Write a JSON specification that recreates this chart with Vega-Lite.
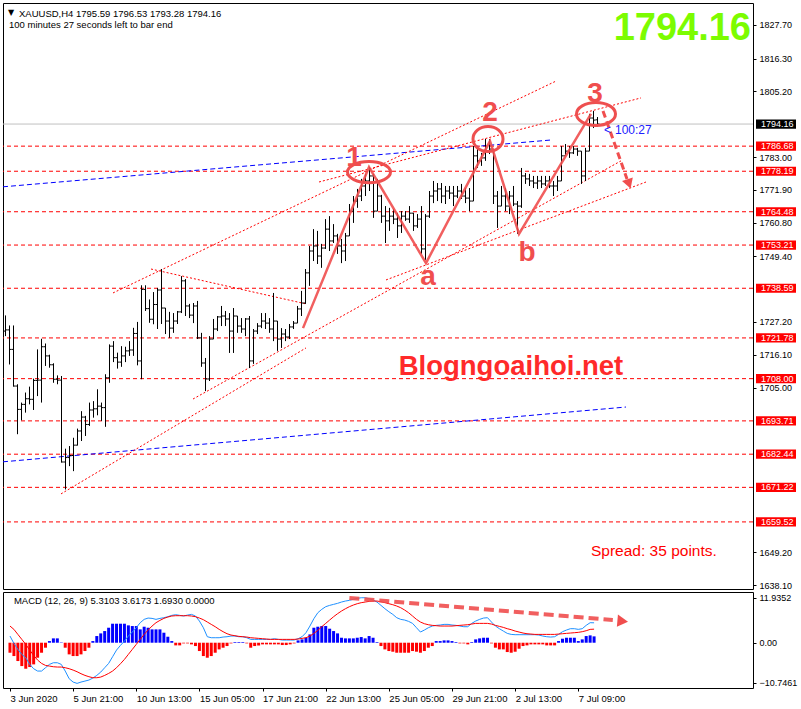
{
"$schema":"https://vega.github.io/schema/vega-lite/v6.json",
"background":"white",
"padding":{"left":2,"top":2,"right":0,"bottom":0},
"spacing":3,
"bounds":"flush",
"config":{
 "view":{"stroke":"#000000","strokeWidth":1},
 "axis":{"labelFont":"Liberation Sans","labelFontSize":9,"labelColor":"#000000","tickColor":"#000000","tickSize":3,"labelPadding":3,"domain":false,"grid":false,"labelFlush":false,"labelOverlap":false,"labelBound":false},
 "text":{"font":"Liberation Sans"}
},
"datasets":{
"bars":[
{"i":0,"o":1724.1,"h":1729.4,"l":1722.4,"c":1724.5,"m":1.78,"s":4.45,"d":-2.67},
{"i":1,"o":1724.5,"h":1726.0,"l":1712.8,"c":1717.9,"m":-0.18,"s":3.56,"d":-3.56},
{"i":2,"o":1717.9,"h":1726.0,"l":1705.3,"c":1705.5,"m":-1.78,"s":2.22,"d":-4.89},
{"i":3,"o":1705.5,"h":1706.1,"l":1689.2,"c":1697.6,"m":-3.11,"s":0.89,"d":-6.23},
{"i":4,"o":1697.6,"h":1699.9,"l":1693.9,"c":1699.3,"m":-4.0,"s":-0.44,"d":-6.94},
{"i":5,"o":1699.3,"h":1703.3,"l":1696.5,"c":1701.2,"m":-5.78,"s":-1.96,"d":-6.49},
{"i":6,"o":1701.2,"h":1705.3,"l":1699.3,"c":1701.0,"m":-6.94,"s":-3.38,"d":-5.78},
{"i":7,"o":1701.0,"h":1708.0,"l":1697.4,"c":1707.4,"m":-7.56,"s":-4.63,"d":-4.0},
{"i":8,"o":1707.4,"h":1717.9,"l":1702.1,"c":1707.5,"m":-7.56,"s":-5.52,"d":-2.67},
{"i":9,"o":1707.5,"h":1721.5,"l":1699.9,"c":1718.8,"m":-6.67,"s":-6.05,"d":-1.33},
{"i":10,"o":1718.8,"h":1719.9,"l":1712.3,"c":1715.7,"m":-5.78,"s":-6.23,"d":0.44},
{"i":11,"o":1715.7,"h":1716.1,"l":1711.7,"c":1712.7,"m":-5.34,"s":-6.41,"d":1.16},
{"i":12,"o":1712.7,"h":1713.2,"l":1706.6,"c":1707.8,"m":-5.34,"s":-6.49,"d":1.16},
{"i":13,"o":1707.8,"h":1709.1,"l":1706.1,"c":1707.5,"m":-5.78,"s":-6.49,"d":0.1},
{"i":14,"o":1707.5,"h":1708.9,"l":1679.6,"c":1679.8,"m":-7.56,"s":-6.67,"d":-1.33},
{"i":15,"o":1679.8,"h":1684.3,"l":1670.5,"c":1681.3,"m":-9.61,"s":-6.94,"d":-3.11},
{"i":16,"o":1681.3,"h":1685.2,"l":1678.4,"c":1682.0,"m":-10.5,"s":-7.3,"d":-3.56},
{"i":17,"o":1682.0,"h":1688.0,"l":1676.7,"c":1685.5,"m":-10.85,"s":-7.74,"d":-3.56},
{"i":18,"o":1685.5,"h":1691.1,"l":1685.4,"c":1690.3,"m":-10.5,"s":-8.27,"d":-3.11},
{"i":19,"o":1690.3,"h":1697.0,"l":1686.9,"c":1695.0,"m":-10.23,"s":-8.72,"d":-2.22},
{"i":20,"o":1695.0,"h":1695.4,"l":1688.6,"c":1692.5,"m":-9.96,"s":-9.07,"d":-1.33},
{"i":21,"o":1692.5,"h":1699.9,"l":1692.0,"c":1697.4,"m":-9.43,"s":-9.34,"d":0.44},
{"i":22,"o":1697.4,"h":1700.4,"l":1694.8,"c":1697.8,"m":-8.72,"s":-9.34,"d":1.78},
{"i":23,"o":1697.8,"h":1704.4,"l":1695.6,"c":1698.7,"m":-7.83,"s":-9.16,"d":2.49},
{"i":24,"o":1698.7,"h":1699.9,"l":1693.7,"c":1698.2,"m":-6.67,"s":-8.72,"d":3.11},
{"i":25,"o":1698.2,"h":1709.5,"l":1691.7,"c":1708.3,"m":-5.52,"s":-8.19,"d":4.0},
{"i":26,"o":1708.3,"h":1719.6,"l":1706.6,"c":1719.0,"m":-3.74,"s":-7.56,"d":5.07},
{"i":27,"o":1719.0,"h":1720.7,"l":1713.6,"c":1715.1,"m":-1.96,"s":-6.67,"d":5.07},
{"i":28,"o":1715.1,"h":1716.8,"l":1711.4,"c":1713.6,"m":-0.71,"s":-5.6,"d":5.07},
{"i":29,"o":1713.6,"h":1719.0,"l":1712.0,"c":1715.7,"m":0.44,"s":-4.45,"d":5.07},
{"i":30,"o":1715.7,"h":1718.8,"l":1713.6,"c":1717.4,"m":1.78,"s":-3.11,"d":4.63},
{"i":31,"o":1717.4,"h":1720.7,"l":1715.7,"c":1717.7,"m":2.85,"s":-1.78,"d":4.45},
{"i":32,"o":1717.7,"h":1725.2,"l":1715.7,"c":1723.3,"m":4.0,"s":-0.44,"d":4.45},
{"i":33,"o":1723.3,"h":1727.2,"l":1712.5,"c":1714.0,"m":5.34,"s":0.89,"d":3.56},
{"i":34,"o":1714.0,"h":1739.6,"l":1707.8,"c":1738.2,"m":6.23,"s":2.22,"d":4.27},
{"i":35,"o":1738.2,"h":1739.6,"l":1730.9,"c":1731.7,"m":6.58,"s":3.38,"d":4.0},
{"i":36,"o":1731.7,"h":1734.8,"l":1726.9,"c":1728.1,"m":6.49,"s":4.45,"d":3.56},
{"i":37,"o":1728.1,"h":1737.3,"l":1726.4,"c":1733.1,"m":6.23,"s":5.34,"d":3.56},
{"i":38,"o":1733.1,"h":1738.7,"l":1724.8,"c":1738.0,"m":6.49,"s":5.96,"d":3.56},
{"i":39,"o":1738.0,"h":1745.1,"l":1726.5,"c":1731.9,"m":6.67,"s":6.49,"d":2.67},
{"i":40,"o":1731.9,"h":1731.9,"l":1723.1,"c":1727.5,"m":6.94,"s":6.85,"d":1.6},
{"i":41,"o":1727.5,"h":1730.6,"l":1721.8,"c":1725.1,"m":7.3,"s":7.12,"d":0.44},
{"i":42,"o":1725.1,"h":1730.2,"l":1723.5,"c":1727.5,"m":7.47,"s":7.21,"d":-0.71},
{"i":43,"o":1727.5,"h":1730.9,"l":1726.5,"c":1730.6,"m":7.3,"s":7.21,"d":-0.71},
{"i":44,"o":1730.6,"h":1742.7,"l":1730.2,"c":1741.1,"m":7.12,"s":7.21,"d":-0.18},
{"i":45,"o":1741.1,"h":1741.7,"l":1729.2,"c":1732.6,"m":7.38,"s":7.21,"d":-0.18},
{"i":46,"o":1732.6,"h":1733.3,"l":1728.5,"c":1729.5,"m":7.56,"s":7.12,"d":-0.44},
{"i":47,"o":1729.5,"h":1733.6,"l":1726.8,"c":1732.6,"m":7.12,"s":6.94,"d":-0.89},
{"i":48,"o":1732.6,"h":1734.3,"l":1721.4,"c":1721.8,"m":5.78,"s":6.58,"d":-2.22},
{"i":49,"o":1721.8,"h":1723.5,"l":1712.0,"c":1713.3,"m":4.0,"s":6.14,"d":-3.56},
{"i":50,"o":1713.3,"h":1715.0,"l":1703.8,"c":1707.9,"m":1.6,"s":5.52,"d":-4.0},
{"i":51,"o":1707.9,"h":1722.4,"l":1707.2,"c":1721.4,"m":1.33,"s":4.89,"d":-3.56},
{"i":52,"o":1721.4,"h":1728.2,"l":1721.4,"c":1724.8,"m":1.33,"s":4.27,"d":-2.67},
{"i":53,"o":1724.8,"h":1729.2,"l":1724.1,"c":1728.9,"m":1.33,"s":3.56,"d":-1.78},
{"i":54,"o":1728.9,"h":1732.6,"l":1725.8,"c":1729.2,"m":1.51,"s":2.94,"d":-1.33},
{"i":55,"o":1729.2,"h":1730.9,"l":1725.8,"c":1728.2,"m":1.6,"s":2.4,"d":-0.89},
{"i":56,"o":1728.2,"h":1730.2,"l":1716.7,"c":1724.1,"m":1.78,"s":2.05,"d":-0.18},
{"i":57,"o":1724.1,"h":1731.9,"l":1716.7,"c":1729.2,"m":1.78,"s":1.87,"d":0.18},
{"i":58,"o":1729.2,"h":1729.2,"l":1723.5,"c":1725.8,"m":1.6,"s":1.69,"d":0.18},
{"i":59,"o":1725.8,"h":1728.5,"l":1723.5,"c":1724.8,"m":1.6,"s":1.6,"d":0.18},
{"i":60,"o":1724.8,"h":1728.5,"l":1722.4,"c":1728.2,"m":1.33,"s":1.51,"d":-0.18},
{"i":61,"o":1728.2,"h":1729.2,"l":1711.6,"c":1714.0,"m":0.89,"s":1.33,"d":-1.33},
{"i":62,"o":1714.0,"h":1724.8,"l":1713.0,"c":1724.1,"m":0.89,"s":1.25,"d":-0.89},
{"i":63,"o":1724.1,"h":1726.8,"l":1723.1,"c":1725.8,"m":0.89,"s":1.16,"d":-0.71},
{"i":64,"o":1725.8,"h":1730.2,"l":1725.1,"c":1727.5,"m":0.89,"s":1.07,"d":-0.44},
{"i":65,"o":1727.5,"h":1730.2,"l":1724.8,"c":1726.8,"m":0.89,"s":0.98,"d":-0.44},
{"i":66,"o":1726.8,"h":1728.5,"l":1723.5,"c":1724.8,"m":0.89,"s":0.89,"d":-0.44},
{"i":67,"o":1724.8,"h":1737.0,"l":1720.7,"c":1727.5,"m":1.07,"s":0.89,"d":-0.44},
{"i":68,"o":1727.5,"h":1727.5,"l":1717.4,"c":1721.4,"m":0.89,"s":0.89,"d":-0.44},
{"i":69,"o":1721.4,"h":1725.1,"l":1718.4,"c":1723.1,"m":0.71,"s":0.89,"d":-0.62},
{"i":70,"o":1723.1,"h":1724.8,"l":1720.7,"c":1722.1,"m":0.71,"s":0.89,"d":-0.62},
{"i":71,"o":1722.1,"h":1726.5,"l":1721.4,"c":1725.5,"m":0.71,"s":0.89,"d":-0.44},
{"i":72,"o":1725.5,"h":1727.5,"l":1724.8,"c":1726.8,"m":0.71,"s":0.89,"d":-0.18},
{"i":73,"o":1726.8,"h":1732.6,"l":1726.8,"c":1731.6,"m":1.07,"s":0.98,"d":0.62},
{"i":74,"o":1731.6,"h":1737.7,"l":1729.2,"c":1733.6,"m":1.6,"s":1.16,"d":0.89},
{"i":75,"o":1733.6,"h":1745.1,"l":1733.3,"c":1743.8,"m":2.67,"s":1.33,"d":1.33},
{"i":76,"o":1743.8,"h":1752.9,"l":1739.4,"c":1751.2,"m":4.45,"s":1.78,"d":2.22},
{"i":77,"o":1751.2,"h":1758.6,"l":1747.8,"c":1752.9,"m":6.41,"s":2.49,"d":4.0},
{"i":78,"o":1752.9,"h":1758.0,"l":1746.8,"c":1749.5,"m":8.0,"s":3.29,"d":4.27},
{"i":79,"o":1749.5,"h":1753.6,"l":1745.5,"c":1752.2,"m":8.9,"s":4.27,"d":4.45},
{"i":80,"o":1752.2,"h":1762.0,"l":1751.9,"c":1758.6,"m":9.61,"s":5.16,"d":4.45},
{"i":81,"o":1758.6,"h":1763.0,"l":1751.2,"c":1754.6,"m":9.96,"s":6.05,"d":3.74},
{"i":82,"o":1754.6,"h":1760.3,"l":1753.9,"c":1756.3,"m":10.23,"s":6.94,"d":3.11},
{"i":83,"o":1756.3,"h":1757.0,"l":1750.2,"c":1752.9,"m":10.5,"s":7.74,"d":2.49},
{"i":84,"o":1752.9,"h":1755.3,"l":1747.1,"c":1751.2,"m":10.85,"s":8.45,"d":1.33},
{"i":85,"o":1751.2,"h":1757.3,"l":1747.8,"c":1756.3,"m":11.12,"s":9.07,"d":1.16},
{"i":86,"o":1756.3,"h":1767.1,"l":1756.3,"c":1764.7,"m":11.3,"s":9.61,"d":1.16},
{"i":87,"o":1764.7,"h":1769.8,"l":1760.7,"c":1768.1,"m":11.57,"s":10.05,"d":1.16},
{"i":88,"o":1768.1,"h":1772.2,"l":1765.8,"c":1769.8,"m":11.83,"s":10.41,"d":1.33},
{"i":89,"o":1769.8,"h":1775.6,"l":1768.1,"c":1773.2,"m":12.0,"s":10.68,"d":1.51},
{"i":90,"o":1773.2,"h":1777.3,"l":1769.8,"c":1774.9,"m":12.0,"s":10.85,"d":1.16},
{"i":91,"o":1774.9,"h":1779.6,"l":1771.5,"c":1776.6,"m":11.74,"s":11.03,"d":1.78},
{"i":92,"o":1776.6,"h":1777.3,"l":1762.4,"c":1764.7,"m":11.39,"s":11.12,"d":1.33},
{"i":93,"o":1764.7,"h":1775.6,"l":1764.7,"c":1769.8,"m":10.85,"s":11.12,"d":0.18},
{"i":94,"o":1769.8,"h":1770.2,"l":1760.7,"c":1763.0,"m":9.96,"s":10.94,"d":-0.89},
{"i":95,"o":1763.0,"h":1766.4,"l":1753.9,"c":1761.4,"m":9.07,"s":10.68,"d":-1.78},
{"i":96,"o":1761.4,"h":1765.8,"l":1758.0,"c":1763.0,"m":8.27,"s":10.41,"d":-2.22},
{"i":97,"o":1763.0,"h":1765.4,"l":1760.3,"c":1762.0,"m":7.56,"s":10.14,"d":-2.4},
{"i":98,"o":1762.0,"h":1764.1,"l":1755.6,"c":1759.7,"m":6.67,"s":9.79,"d":-2.67},
{"i":99,"o":1759.7,"h":1764.7,"l":1757.3,"c":1763.0,"m":6.23,"s":9.34,"d":-2.67},
{"i":100,"o":1763.0,"h":1764.7,"l":1761.4,"c":1762.0,"m":6.05,"s":8.72,"d":-2.67},
{"i":101,"o":1762.0,"h":1766.4,"l":1760.7,"c":1764.0,"m":5.69,"s":8.0,"d":-2.67},
{"i":102,"o":1764.0,"h":1764.1,"l":1758.0,"c":1759.7,"m":5.16,"s":7.12,"d":-2.22},
{"i":103,"o":1759.7,"h":1763.7,"l":1759.0,"c":1762.0,"m":4.0,"s":6.23,"d":-2.4},
{"i":104,"o":1762.0,"h":1766.4,"l":1750.2,"c":1751.9,"m":2.85,"s":5.52,"d":-2.67},
{"i":105,"o":1751.9,"h":1763.7,"l":1748.2,"c":1763.0,"m":3.38,"s":5.07,"d":-2.22},
{"i":106,"o":1763.0,"h":1771.5,"l":1762.4,"c":1769.8,"m":4.0,"s":4.8,"d":-1.33},
{"i":107,"o":1769.8,"h":1774.9,"l":1767.4,"c":1771.5,"m":4.45,"s":4.63,"d":-0.89},
{"i":108,"o":1771.5,"h":1774.2,"l":1768.1,"c":1772.2,"m":4.63,"s":4.54,"d":0.44},
{"i":109,"o":1772.2,"h":1774.2,"l":1767.4,"c":1769.8,"m":4.72,"s":4.45,"d":0.44},
{"i":110,"o":1769.8,"h":1773.2,"l":1767.1,"c":1771.5,"m":4.89,"s":4.45,"d":0.62},
{"i":111,"o":1771.5,"h":1773.2,"l":1768.8,"c":1770.8,"m":4.89,"s":4.45,"d":0.62},
{"i":112,"o":1770.8,"h":1773.2,"l":1766.4,"c":1769.8,"m":4.72,"s":4.45,"d":0.44},
{"i":113,"o":1769.8,"h":1773.2,"l":1769.1,"c":1771.5,"m":4.63,"s":4.54,"d":0.18},
{"i":114,"o":1771.5,"h":1773.9,"l":1768.8,"c":1769.8,"m":4.45,"s":4.63,"d":-0.18},
{"i":115,"o":1769.8,"h":1772.5,"l":1767.4,"c":1769.1,"m":4.27,"s":4.72,"d":-0.18},
{"i":116,"o":1769.1,"h":1772.5,"l":1764.7,"c":1768.1,"m":4.27,"s":4.8,"d":-0.44},
{"i":117,"o":1768.1,"h":1786.7,"l":1768.1,"c":1783.4,"m":5.16,"s":4.98,"d":0.18},
{"i":118,"o":1783.4,"h":1785.7,"l":1779.3,"c":1781.7,"m":5.78,"s":5.16,"d":0.89},
{"i":119,"o":1781.7,"h":1784.4,"l":1780.0,"c":1782.7,"m":6.23,"s":5.16,"d":1.16},
{"i":120,"o":1782.7,"h":1789.1,"l":1781.7,"c":1785.0,"m":6.58,"s":5.16,"d":1.33},
{"i":121,"o":1785.0,"h":1789.1,"l":1784.0,"c":1785.7,"m":6.67,"s":5.16,"d":1.33},
{"i":122,"o":1785.7,"h":1785.7,"l":1767.1,"c":1769.8,"m":5.52,"s":4.98,"d":-0.18},
{"i":123,"o":1769.8,"h":1771.5,"l":1759.0,"c":1766.4,"m":4.45,"s":4.63,"d":-1.33},
{"i":124,"o":1766.4,"h":1773.2,"l":1766.4,"c":1769.8,"m":3.74,"s":4.36,"d":-1.78},
{"i":125,"o":1769.8,"h":1772.5,"l":1764.7,"c":1766.4,"m":3.11,"s":4.09,"d":-1.78},
{"i":126,"o":1766.4,"h":1771.5,"l":1763.7,"c":1769.8,"m":2.49,"s":3.74,"d":-2.49},
{"i":127,"o":1769.8,"h":1773.2,"l":1766.4,"c":1767.1,"m":2.22,"s":3.47,"d":-2.67},
{"i":128,"o":1767.1,"h":1768.1,"l":1757.0,"c":1766.4,"m":2.14,"s":3.11,"d":-2.4},
{"i":129,"o":1766.4,"h":1779.3,"l":1765.8,"c":1776.6,"m":2.14,"s":2.85,"d":-1.6},
{"i":130,"o":1776.6,"h":1777.6,"l":1773.9,"c":1775.6,"m":2.14,"s":2.58,"d":-0.89},
{"i":131,"o":1775.6,"h":1777.3,"l":1773.2,"c":1774.9,"m":2.14,"s":2.4,"d":-0.71},
{"i":132,"o":1774.9,"h":1776.6,"l":1772.5,"c":1774.2,"m":2.14,"s":2.31,"d":-0.44},
{"i":133,"o":1774.2,"h":1776.6,"l":1772.2,"c":1774.9,"m":2.14,"s":2.22,"d":-0.44},
{"i":134,"o":1774.9,"h":1776.6,"l":1772.5,"c":1773.9,"m":2.05,"s":2.22,"d":-0.44},
{"i":135,"o":1773.9,"h":1776.6,"l":1773.2,"c":1774.9,"m":1.78,"s":2.22,"d":-0.44},
{"i":136,"o":1774.9,"h":1776.6,"l":1772.5,"c":1773.2,"m":1.6,"s":2.22,"d":-0.71},
{"i":137,"o":1773.2,"h":1774.9,"l":1769.8,"c":1773.2,"m":1.51,"s":2.22,"d":-0.71},
{"i":138,"o":1773.2,"h":1776.6,"l":1771.5,"c":1774.9,"m":1.6,"s":2.22,"d":-0.71},
{"i":139,"o":1774.9,"h":1786.7,"l":1774.9,"c":1783.4,"m":2.22,"s":2.31,"d":0.44},
{"i":140,"o":1783.4,"h":1787.4,"l":1783.4,"c":1785.0,"m":2.94,"s":2.4,"d":1.07},
{"i":141,"o":1785.0,"h":1786.7,"l":1782.7,"c":1784.4,"m":3.38,"s":2.49,"d":1.33},
{"i":142,"o":1784.4,"h":1786.7,"l":1784.0,"c":1785.7,"m":3.74,"s":2.58,"d":1.33},
{"i":143,"o":1785.7,"h":1786.1,"l":1783.4,"c":1785.0,"m":3.74,"s":2.67,"d":1.33},
{"i":144,"o":1785.0,"h":1785.0,"l":1773.9,"c":1776.6,"m":3.56,"s":2.76,"d":0.44},
{"i":145,"o":1776.6,"h":1786.1,"l":1774.9,"c":1785.0,"m":3.74,"s":2.94,"d":0.89},
{"i":146,"o":1785.0,"h":1797.6,"l":1785.0,"c":1796.2,"m":4.63,"s":3.2,"d":1.78},
{"i":147,"o":1796.2,"h":1798.6,"l":1792.8,"c":1795.5,"m":5.34,"s":3.56,"d":1.96},
{"i":148,"o":1795.59,"h":1796.53,"l":1793.28,"c":1794.16,"m":5.3103,"s":3.6173,"d":1.693}
],
"levels":[{"v":1786.68},{"v":1778.19},{"v":1764.48},{"v":1753.21},{"v":1738.59},{"v":1721.78},{"v":1708.00},{"v":1693.71},{"v":1682.44},{"v":1671.22},{"v":1659.52}],
"trend":[
{"id":"a","i":27,"p":1737.0},{"id":"a","i":137.75,"p":1808.7},
{"id":"b","i":78.5,"p":1774.55},{"id":"b","i":159,"p":1803.0},
{"id":"c","i":36.5,"p":1745.1},{"id":"c","i":75.25,"p":1733.3},
{"id":"d","i":47,"p":1701.1},{"id":"d","i":154,"p":1781.7},
{"id":"e","i":95.25,"p":1741.4},{"id":"e","i":160.25,"p":1774.55},
{"id":"f","i":14,"p":1669.0},{"id":"f","i":75.25,"p":1718.4}
],
"blue":[
{"id":"u","i":-0.5,"p":1772.92},{"id":"u","i":136.5,"p":1788.76},
{"id":"w","i":-0.5,"p":1679.86},{"id":"w","i":155.25,"p":1698.4}
],
"waves":[
{"k":0,"i":74.5,"p":1725.1},{"k":1,"i":91,"p":1779.6},{"k":2,"i":105.25,"p":1747.1},{"k":3,"i":121.25,"p":1788.4},{"k":4,"i":128.5,"p":1757.0},{"k":5,"i":146.5,"p":1797.6}
],
"wl":[
{"t":"1","i":87.25,"p":1780.0},{"t":"2","i":121.25,"p":1795.2},{"t":"3","i":147.5,"p":1801.6},{"t":"a","i":105.75,"p":1739.7},{"t":"b","i":130.5,"p":1747.8}
]
},
"vconcat":[
{
"width":750,"height":586,
"layer":[
 {"data":{"name":"levels"},"mark":{"type":"rule","color":"#FF0000","strokeWidth":1,"strokeDash":[4,3]},
  "encoding":{"y":{"field":"v","type":"quantitative","scale":{"domain":[1636.82,1835.12],"nice":false,"zero":false},
   "axis":{"orient":"right","title":null,"values":[1827.7,1816.3,1805.2,1783.0,1771.9,1760.8,1749.4,1727.2,1716.1,1705.0,1649.2,1638.1],"format":".2f"}}}},
 {"data":{"values":[{}]},"mark":{"type":"rule","color":"#C0C0C0","strokeWidth":1},"encoding":{"y":{"datum":1794.16,"type":"quantitative"}}},
 {"data":{"name":"blue"},"mark":{"type":"line","color":"#0000FF","strokeWidth":1,"strokeDash":[5,3],"clip":true},
  "encoding":{"x":{"field":"i","type":"quantitative","scale":{"domain":[-0.5,187],"nice":false,"zero":false},"axis":null},"y":{"field":"p","type":"quantitative"},"detail":{"field":"id"}}},
 {"data":{"name":"trend"},"mark":{"type":"line","color":"#FF0000","strokeWidth":1,"strokeDash":[2,2]},
  "encoding":{"x":{"field":"i","type":"quantitative","axis":null},"y":{"field":"p","type":"quantitative"},"detail":{"field":"id"}}},
 {"data":{"name":"bars"},"mark":{"type":"rule","color":"#000000","strokeWidth":1,"xOffset":0.5},
  "encoding":{"x":{"field":"i","type":"quantitative","axis":null},"y":{"field":"l","type":"quantitative"},"y2":{"field":"h"}}},
 {"data":{"name":"bars"},"mark":{"type":"tick","orient":"horizontal","color":"#000000","size":2,"thickness":1,"xOffset":-0.5,"opacity":1},
  "encoding":{"x":{"field":"i","type":"quantitative","axis":null},"y":{"field":"o","type":"quantitative"}}},
 {"data":{"name":"bars"},"mark":{"type":"tick","orient":"horizontal","color":"#000000","size":2,"thickness":1,"xOffset":1.5,"opacity":1},
  "encoding":{"x":{"field":"i","type":"quantitative","axis":null},"y":{"field":"c","type":"quantitative"}}},
 {"data":{"name":"waves"},"mark":{"type":"line","color":"#F04E4E","strokeWidth":2.5,"opacity":0.9},
  "encoding":{"x":{"field":"i","type":"quantitative","axis":null},"y":{"field":"p","type":"quantitative"},"order":{"field":"k"}}},
 {"data":{"values":[{}]},"mark":{"type":"point","shape":"M -1 0 A 1 0.49 0 1 1 1 0 A 1 0.49 0 1 1 -1 0 Z","size":1849,"filled":false,"stroke":"#EE4F4F","strokeWidth":3,"opacity":1},
  "encoding":{"x":{"datum":91,"type":"quantitative","axis":null},"y":{"datum":1777.9,"type":"quantitative"}}},
 {"data":{"values":[{}]},"mark":{"type":"point","shape":"M -1 0 A 1 0.83 0 1 1 1 0 A 1 0.83 0 1 1 -1 0 Z","size":900,"filled":false,"stroke":"#EE4F4F","strokeWidth":3,"opacity":1},
  "encoding":{"x":{"datum":120.75,"type":"quantitative","axis":null},"y":{"datum":1789.1,"type":"quantitative"}}},
 {"data":{"values":[{}]},"mark":{"type":"point","shape":"M -1 0 A 1 0.59 0 1 1 1 0 A 1 0.59 0 1 1 -1 0 Z","size":1521,"filled":false,"stroke":"#EE4F4F","strokeWidth":3,"opacity":1},
  "encoding":{"x":{"datum":147.75,"type":"quantitative","axis":null},"y":{"datum":1797.56,"type":"quantitative"}}},
 {"data":{"name":"wl"},"mark":{"type":"text","fontWeight":"bold","fontSize":28,"color":"#F04E4E","align":"center","baseline":"alphabetic"},
  "encoding":{"x":{"field":"i","type":"quantitative","axis":null},"y":{"field":"p","type":"quantitative"},"text":{"field":"t"}}},
 {"data":{"values":[{}]},"mark":{"type":"rule","color":"#F04E4E","strokeWidth":3,"strokeDash":[7,4]},
  "encoding":{"x":{"datum":149.5,"type":"quantitative","axis":null},"y":{"datum":1798.6,"type":"quantitative"},"x2":{"datum":155.5},"y2":{"datum":1775.6}}},
 {"data":{"values":[{}]},"mark":{"type":"point","shape":"triangle-down","size":130,"filled":true,"color":"#F04E4E","opacity":1,"angle":341},
  "encoding":{"x":{"datum":156.0,"type":"quantitative","axis":null},"y":{"datum":1773.9,"type":"quantitative"}}},
 {"data":{"values":[{}]},"mark":{"type":"text","fontWeight":"bold","fontSize":27.5,"color":"#FF2A2A","align":"center","baseline":"alphabetic"},
  "encoding":{"x":{"datum":126.5,"type":"quantitative","axis":null},"y":{"datum":1709.2,"type":"quantitative"},"text":{"value":"Blogngoaihoi.net"}}},
 {"data":{"values":[{}]},"mark":{"type":"text","fontWeight":"bold","fontSize":38,"color":"#7CFC00","align":"right","baseline":"alphabetic"},
  "encoding":{"x":{"datum":186.5,"type":"quantitative","axis":null},"y":{"datum":1822.6,"type":"quantitative"},"text":{"value":"1794.16"}}},
 {"data":{"values":[{}]},"mark":{"type":"text","font":"DejaVu Sans","fontSize":8,"color":"#000000","align":"center","baseline":"middle"},
  "encoding":{"x":{"datum":1.5,"type":"quantitative","axis":null},"y":{"datum":1831.9,"type":"quantitative"},"text":{"value":"▼"}}},
 {"data":{"values":[{}]},"mark":{"type":"text","fontSize":9.5,"color":"#000000","align":"left","baseline":"alphabetic"},
  "encoding":{"x":{"datum":3.5,"type":"quantitative","axis":null},"y":{"datum":1830.4,"type":"quantitative"},"text":{"value":"XAUUSD,H4  1795.59 1796.53 1793.28 1794.16"}}},
 {"data":{"values":[{}]},"mark":{"type":"text","fontSize":9.5,"color":"#000000","align":"left","baseline":"alphabetic"},
  "encoding":{"x":{"datum":1,"type":"quantitative","axis":null},"y":{"datum":1826.5,"type":"quantitative"},"text":{"value":"100 minutes 27 seconds left to bar end"}}},
 {"data":{"values":[{}]},"mark":{"type":"text","fontSize":15.5,"color":"#FF0000","align":"left","baseline":"alphabetic"},
  "encoding":{"x":{"datum":146.5,"type":"quantitative","axis":null},"y":{"datum":1648.0,"type":"quantitative"},"text":{"value":"Spread: 35 points."}}},
 {"data":{"values":[{}]},"mark":{"type":"text","fontSize":12,"color":"#2020FF","align":"left","baseline":"alphabetic"},
  "encoding":{"x":{"datum":149.75,"type":"quantitative","axis":null},"y":{"datum":1790.8,"type":"quantitative"},"text":{"value":"<"}}},
 {"data":{"values":[{}]},"mark":{"type":"text","fontSize":12,"color":"#2020FF","align":"left","baseline":"alphabetic"},
  "encoding":{"x":{"datum":152.5,"type":"quantitative","axis":null},"y":{"datum":1790.8,"type":"quantitative"},"text":{"value":"100:27"}}},
 {"data":{"name":"levels"},"mark":{"type":"point","shape":"M -1 -0.23 H 1 V 0.23 H -1 Z","size":1600,"filled":true,"color":"#FF0000","opacity":1},
  "encoding":{"x":{"datum":192.75,"type":"quantitative","axis":null},"y":{"field":"v","type":"quantitative"}}},
 {"data":{"name":"levels"},"mark":{"type":"text","fontSize":9,"color":"#FFFFFF","align":"left","baseline":"middle"},
  "encoding":{"x":{"datum":189,"type":"quantitative","axis":null},"y":{"field":"v","type":"quantitative"},"text":{"field":"v","type":"quantitative","format":".2f"}}},
 {"data":{"values":[{}]},"mark":{"type":"point","shape":"M -1 -0.23 H 1 V 0.23 H -1 Z","size":1600,"filled":true,"color":"#000000","opacity":1},
  "encoding":{"x":{"datum":192.75,"type":"quantitative","axis":null},"y":{"datum":1794.16,"type":"quantitative"}}},
 {"data":{"values":[{}]},"mark":{"type":"text","fontSize":9,"color":"#FFFFFF","align":"left","baseline":"middle"},
  "encoding":{"x":{"datum":189,"type":"quantitative","axis":null},"y":{"datum":1794.16,"type":"quantitative"},"text":{"value":"1794.16"}}}
]
},
{
"width":750,"height":96,
"data":{"name":"bars"},
"layer":[
 {"mark":{"type":"bar","size":3},
  "encoding":{
   "x":{"field":"i","type":"quantitative","scale":{"domain":[-0.5,187],"nice":false,"zero":false},
    "axis":{"title":null,"values":[0,16,32,48,64,80,96,112,128,144],"labelAlign":"left","labelPadding":2,"labelFontSize":9.5,"labelExpr":"['3 Jun 2020','5 Jun 21:00','10 Jun 13:00','15 Jun 05:00','17 Jun 21:00','22 Jun 13:00','25 Jun 05:00','29 Jun 21:00','2 Jul 13:00','7 Jul 09:00'][round(datum.value/16)]"}},
   "y":{"field":"d","type":"quantitative","scale":{"domain":[-12.08,13.53],"nice":false,"zero":false},
    "axis":{"title":null,"orient":"right","values":[11.9352,0,-10.7461],"labelExpr":"datum.value == 0 ? '0.00' : format(datum.value, '.4f')"}},
   "y2":{"datum":0},
   "color":{"condition":{"test":"datum.d >= 0","value":"#0000FF"},"value":"#FF0000"}}},
 {"mark":{"type":"line","color":"#1E90FF","strokeWidth":1},
  "encoding":{"x":{"field":"i","type":"quantitative"},"y":{"field":"m","type":"quantitative"}}},
 {"mark":{"type":"line","color":"#FF0000","strokeWidth":1},
  "encoding":{"x":{"field":"i","type":"quantitative"},"y":{"field":"s","type":"quantitative"}}},
 {"data":{"values":[{}]},"mark":{"type":"rule","color":"#F04E4E","strokeWidth":4,"strokeDash":[10,5],"opacity":0.9},
  "encoding":{"x":{"datum":86,"type":"quantitative"},"y":{"datum":11.93,"type":"quantitative"},"x2":{"datum":152.75},"y2":{"datum":6.06}}},
 {"data":{"values":[{}]},"mark":{"type":"point","shape":"triangle-right","size":150,"filled":true,"color":"#F04E4E","opacity":1,"angle":5},
  "encoding":{"x":{"datum":155.25,"type":"quantitative"},"y":{"datum":5.75,"type":"quantitative"}}},
 {"data":{"values":[{}]},"mark":{"type":"text","fontSize":9.5,"color":"#000000","align":"left","baseline":"alphabetic"},
  "encoding":{"x":{"datum":1,"type":"quantitative"},"y":{"datum":10.33,"type":"quantitative"},"text":{"value":"MACD (12, 26, 9) 5.3103 3.6173 1.6930 0.0000"}}}
]
}
]
}
